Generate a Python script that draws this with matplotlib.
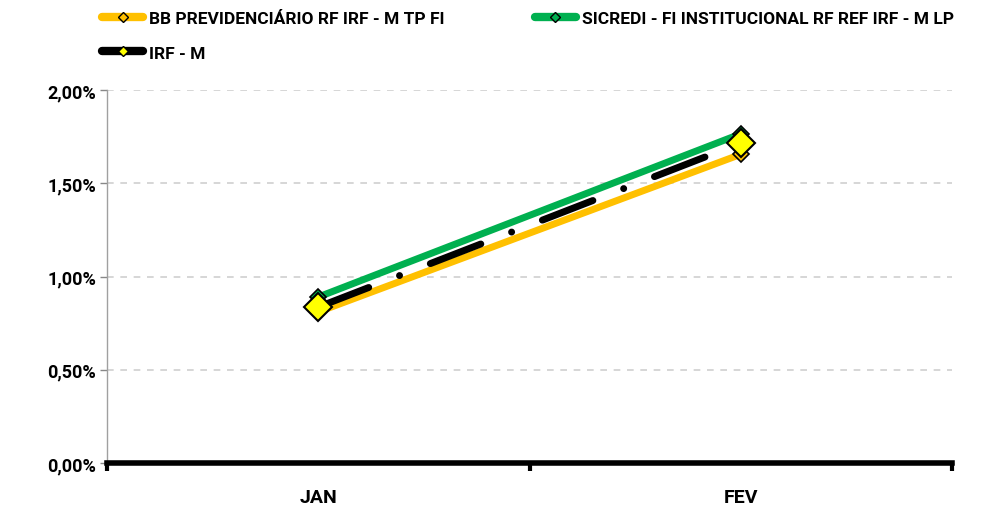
import matplotlib
matplotlib.use("Agg")
import matplotlib.pyplot as plt
from matplotlib.ticker import FuncFormatter, FixedLocator

months = ["JAN", "FEV"]
bb = [0.81, 1.655]
sicredi = [0.89, 1.765]
irfm = [0.836, 1.715]
yticks = [0.0, 0.5, 1.0, 1.5, 2.0]

plt.rcParams['font.family'] = ['Roboto', 'DejaVu Sans']
plt.rcParams['font.weight'] = 'bold'

fig = plt.figure(figsize=(9.83, 5.10), dpi=100)
ax = fig.add_axes([107/983, 46/510, 845/983, 373/510])

x = [0.5, 1.5]
l1, = ax.plot(x, bb, color='#FFC000', lw=5, solid_capstyle='butt', marker='D', ms=8,
              mfc='#FFC000', mec='black', mew=1.2, label='BB PREVIDENCIÁRIO RF IRF - M TP FI', zorder=3)
l2, = ax.plot(x, sicredi, color='#00B050', lw=5, solid_capstyle='butt', marker='D', ms=8,
              mfc='#00B050', mec='black', mew=1.2, label='SICREDI - FI INSTITUCIONAL RF REF IRF - M LP', zorder=4)
l3, = ax.plot(x, irfm, color='black', lw=5, dashes=(7.8, 4.75, 0.01, 4.75), dash_capstyle='round',
              marker='D', ms=14, mfc='#FFFF00', mec='black', mew=1.5, label='IRF - M', zorder=5)

ax.set_xlim(0, 2)
ax.set_ylim(0, 2.0)
ax.yaxis.set_major_locator(FixedLocator(yticks))
ax.yaxis.set_major_formatter(FuncFormatter(lambda v, p: f"{v:.2f}%".replace('.', ',')))
ax.grid(axis='y', color='#D0D0D0', linestyle=(0, (4, 4)), lw=1.2)
ax.set_axisbelow(True)

ax.xaxis.set_major_locator(FixedLocator([0, 1, 2]))
ax.xaxis.set_major_formatter(FuncFormatter(lambda v, p: ''))
ax.set_xticks(x, minor=True)
ax.set_xticklabels(months, minor=True)
ax.tick_params(axis='x', which='minor', length=0, pad=18, labelsize=14)
ax.tick_params(axis='x', which='major', length=6, width=3, direction='out', color='black')
ax.tick_params(axis='y', length=5, width=1, color='#888888', labelsize=13, pad=3)
for lab in ax.get_xticklabels(minor=True) + ax.get_yticklabels():
    lab.set_fontweight('bold')

for s in ['top', 'right']:
    ax.spines[s].set_visible(False)
ax.spines['left'].set_color('#A0A0A0')
ax.spines['left'].set_linewidth(1)
ax.spines['bottom'].set_color('black')
ax.spines['bottom'].set_linewidth(4)
ax.spines['bottom'].set_zorder(6)

leg = fig.legend(handles=[l1, l3, l2], loc='upper left', bbox_to_anchor=(90/983, 1.0), ncol=2,
                 frameon=False, fontsize=12.5, handlelength=2.35, handletextpad=0.35,
                 columnspacing=5.2, labelspacing=1.1, borderaxespad=0.3)
for t in leg.get_texts():
    t.set_fontweight('bold')
for h in leg.legend_handles:
    h.set_linewidth(6)
    h.set_solid_capstyle('round')
    h.set_markersize(5)
    h.set_markeredgewidth(1.0)
leg.legend_handles[1].set_linestyle('-')

fig.savefig("out.png", dpi=100)
